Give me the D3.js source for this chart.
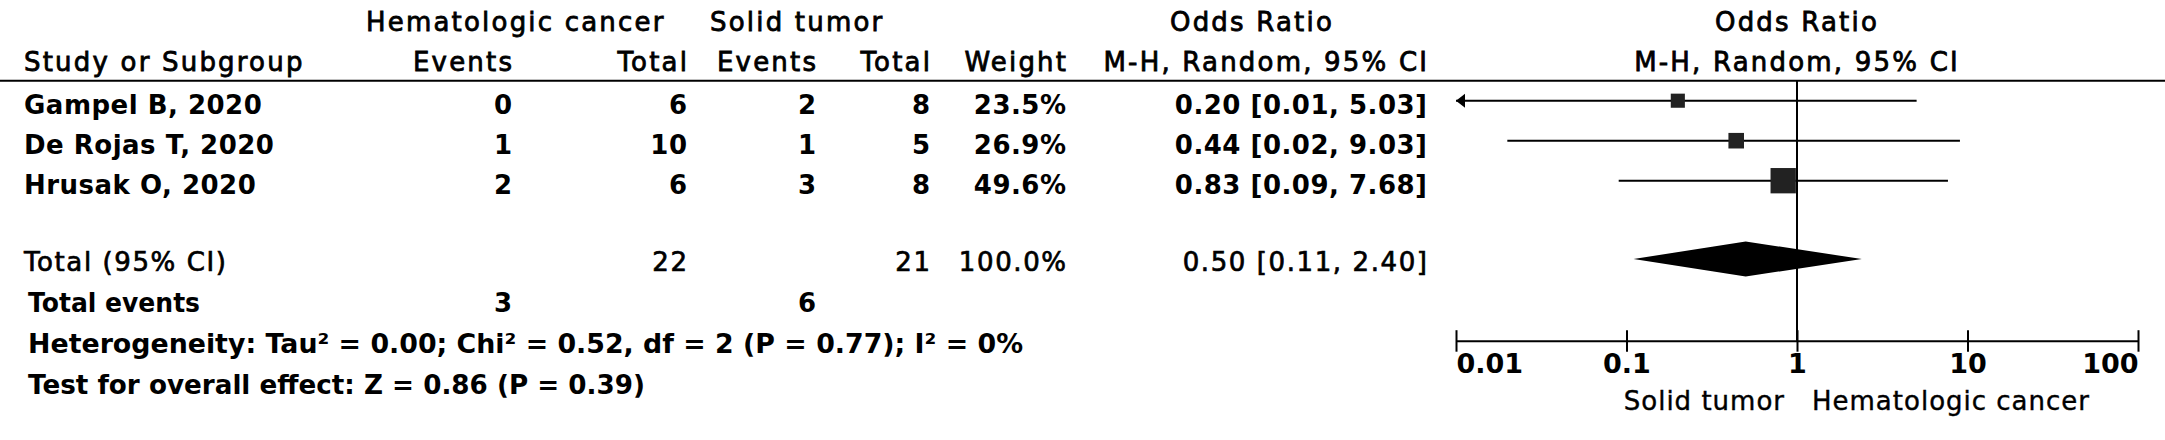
<!DOCTYPE html>
<html><head><meta charset="utf-8">
<script src="https://cdn.jsdelivr.net/npm/d3@7"></script>
<style>
html,body{margin:0;padding:0;background:#fff;}
svg{display:block;}
text{font-family:"DejaVu Sans",Verdana,sans-serif;fill:#000;}
</style></head><body>
<svg id="chart" width="2165" height="440"></svg>
<script>
// ---- data ----
const studies = ["Gampel B, 2020", "De Rojas T, 2020", "Hrusak O, 2020"];
const hemEvents = [0, 1, 2];
const hemTotal = [6, 10, 6];
const solidEvents = [2, 1, 3];
const solidTotal = [8, 5, 8];
const weights = [23.5, 26.9, 49.6];
const orEst = [0.20, 0.44, 0.83];
const ciLow = [0.01, 0.02, 0.09];
const ciHigh = [5.03, 9.03, 7.68];
const totalLabel = "Total (95% CI)";
const totalHem = [22];
const totalSolid = [21];
const totalWeight = [100.0];
const pooledOR = [0.50, 0.11, 2.40];
const totalEventsLabel = "Total events";
const totalEvents = [3, 6];
const heterogeneity = "Heterogeneity: Tau² = 0.00; Chi² = 0.52, df = 2 (P = 0.77); I² = 0%";
const overallEffect = "Test for overall effect: Z = 0.86 (P = 0.39)";
const groupHeaders = ["Hematologic cancer", "Solid tumor"];
const colHeaders = ["Study or Subgroup", "Events", "Total", "Events", "Total", "Weight", "M-H, Random, 95% CI"];
const effectHeader = ["Odds Ratio", "M-H, Random, 95% CI"];
const axisTicks = [0.01, 0.1, 1, 10, 100];
const tickLabels = ["0.01", "0.1", "1", "10", "100"];
const favours = ["Solid tumor", "Hematologic cancer"];

// ---- layout ----
const svg = d3.select("#chart");
const x = d3.scaleLog().domain([0.01, 100]).range([1456, 2138]);
const rowY = d3.scaleLinear().domain([0, 2]).range([100.7, 180.7]);
const totalY = 259;
const boxSide = d3.scaleLinear().domain([0, 100]).range([4, 47]);
const col = {study: 24, hemE: 512, hemT: 687, solE: 816, solT: 930, wt: 1066, or: 1427};

const headerStyle = {size: 26, weight: "normal", ls: 2.2, stroke: 0.8};
const rowStyle = {size: 26, weight: "bold", ls: 0.5, stroke: 0};
const totStyle = {size: 26, weight: "normal", ls: 1.6, stroke: 0.7};

function txt(px, py, s, st, anchor) {
  const t = svg.append("text")
    .attr("x", anchor === "end" ? px + st.ls : px)
    .attr("y", py)
    .attr("font-size", st.size)
    .attr("font-weight", st.weight)
    .attr("letter-spacing", st.ls)
    .attr("text-anchor", anchor || "start")
    .text(s);
  if (st.stroke) t.attr("stroke", "#000").attr("stroke-width", st.stroke);
  return t;
}

// headers
txt(366, 31, groupHeaders[0], headerStyle);
txt(710, 31, groupHeaders[1], headerStyle);
txt(1252, 31, effectHeader[0], headerStyle, "middle");
txt(x(1), 31, effectHeader[0], headerStyle, "middle");
const hdrX = [col.study, col.hemE, col.hemT, col.solE, col.solT, col.wt, col.or];
colHeaders.forEach((h, i) => txt(hdrX[i], 71, h, headerStyle, i === 0 ? "start" : "end"));
txt(x(1), 71, effectHeader[1], headerStyle, "middle");

svg.append("line").attr("x1", 0).attr("x2", 2165).attr("y1", 80.7).attr("y2", 80.7)
  .attr("stroke", "#000").attr("stroke-width", 2);

// study rows
studies.forEach((s, i) => {
  const by = rowY(i) + 13;
  txt(col.study, by, s, rowStyle);
  txt(col.hemE, by, hemEvents[i], rowStyle, "end");
  txt(col.hemT, by, hemTotal[i], rowStyle, "end");
  txt(col.solE, by, solidEvents[i], rowStyle, "end");
  txt(col.solT, by, solidTotal[i], rowStyle, "end");
  txt(col.wt, by, weights[i].toFixed(1) + "%", rowStyle, "end");
  txt(col.or, by, `${orEst[i].toFixed(2)} [${ciLow[i].toFixed(2)}, ${ciHigh[i].toFixed(2)}]`, rowStyle, "end");
});

// total rows
const ty = totalY + 12;
txt(col.study, ty, totalLabel, totStyle);
txt(col.hemT, ty, totalHem[0], totStyle, "end");
txt(col.solT, ty, totalSolid[0], totStyle, "end");
txt(col.wt, ty, totalWeight[0].toFixed(1) + "%", totStyle, "end");
txt(col.or, ty, `${pooledOR[0].toFixed(2)} [${pooledOR[1].toFixed(2)}, ${pooledOR[2].toFixed(2)}]`, totStyle, "end");

const evStyle = {size: 26, weight: "bold", ls: 0, stroke: 0};
txt(col.study + 4, 312, totalEventsLabel, evStyle).attr("textLength", 172).attr("lengthAdjust", "spacingAndGlyphs");
txt(col.hemE, 312, totalEvents[0], evStyle, "end");
txt(col.solE, 312, totalEvents[1], evStyle, "end");
txt(col.study + 4, 353, heterogeneity, evStyle).attr("textLength", 995).attr("lengthAdjust", "spacingAndGlyphs");
txt(col.study + 4, 394, overallEffect, evStyle).attr("textLength", 617).attr("lengthAdjust", "spacingAndGlyphs");

// plot
const axisY = 340.7;
svg.append("line").attr("x1", x(1)).attr("x2", x(1)).attr("y1", 80.7).attr("y2", axisY)
  .attr("stroke", "#000").attr("stroke-width", 2);

const [xmin] = x.domain();
studies.forEach((s, i) => {
  const y = rowY(i);
  const lo = Math.max(ciLow[i], xmin);
  svg.append("line").attr("x1", x(lo)).attr("x2", x(ciHigh[i])).attr("y1", y).attr("y2", y)
    .attr("stroke", "#000").attr("stroke-width", 2);
  if (ciLow[i] <= xmin) {
    const x0 = x(xmin);
    svg.append("path").attr("d", `M${x0},${y}L${x0 + 9},${y - 7}L${x0 + 9},${y + 7}Z`).attr("fill", "#000");
  }
  const side = boxSide(weights[i]);
  svg.append("rect").attr("x", x(orEst[i]) - side / 2).attr("y", y - side / 2)
    .attr("width", side).attr("height", side).attr("fill", "#222");
});

svg.append("path")
  .attr("d", `M${x(pooledOR[1])},${totalY}L${x(pooledOR[0])},${totalY - 17.5}L${x(pooledOR[2])},${totalY}L${x(pooledOR[0])},${totalY + 17.5}Z`)
  .attr("fill", "#000");

const axis = d3.axisBottom(x).tickValues(axisTicks).tickFormat((d, i) => tickLabels[i])
  .tickSizeOuter(0).tickSizeInner(11);
const ag = svg.append("g").attr("transform", `translate(0,${axisY})`).call(axis)
  .attr("font-family", '"DejaVu Sans", Verdana, sans-serif').attr("font-size", 27).attr("font-weight", "bold");
ag.select(".domain").attr("stroke", "#000").attr("stroke-width", 2);
ag.selectAll(".tick line").attr("y1", -10.5).attr("y2", 11).attr("stroke", "#000").attr("stroke-width", 2);
ag.selectAll(".tick text").attr("y", 32.5).attr("dy", null).attr("fill", "#000")
  .attr("text-anchor", (d, i) => i === 0 ? "start" : (i === axisTicks.length - 1 ? "end" : "middle"));

const favStyle = {size: 26, weight: "normal", ls: 1, stroke: 0.4};
txt(x(1) - 13, 410, favours[0], favStyle, "end");
txt(x(1) + 15, 410, favours[1], favStyle);
</script>
</body></html>
